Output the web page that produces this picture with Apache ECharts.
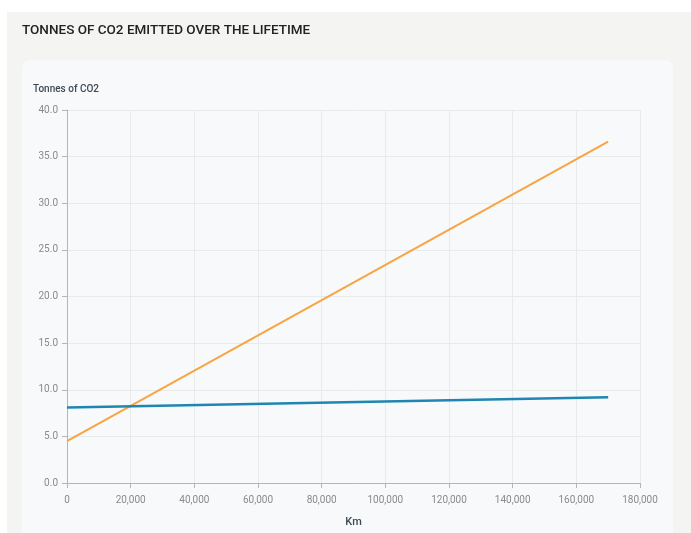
<!DOCTYPE html>
<html><head><meta charset="utf-8">
<script src="https://cdn.jsdelivr.net/npm/echarts@6/dist/echarts.min.js"></script>
<style>html,body{margin:0;padding:0;background:#fff}#c{width:691px;height:533px}</style>
</head><body><div id="c"></div>
<script>
const kmPoints = [0, 170000];
const orangeSeries = [4.5, 36.6];
const blueSeries = [8.1, 9.2];
const yTicks = [0, 5, 10, 15, 20, 25, 30, 35, 40];
const xTicks = [0, 20000, 40000, 60000, 80000, 100000, 120000, 140000, 160000, 180000];

const chart = echarts.init(document.getElementById('c'));
const pair = (xs, ys) => xs.map((x, i) => [x, ys[i]]);
chart.setOption({
  backgroundColor: '#ffffff',
  animation: false,
  graphic: [
    {type: 'rect', shape: {x: 7, y: 12, width: 684, height: 521}, style: {fill: '#f4f4f2'}, z: -10, silent: true},
    {type: 'rect', shape: {x: 22, y: 60, width: 651, height: 480, r: 8}, style: {fill: '#f8f9fb'}, z: -9, silent: true}
  ],
  title: {
    text: 'TONNES OF CO2 EMITTED OVER THE LIFETIME',
    left: 17, top: 19,
    textStyle: {fontFamily: 'Roboto', fontSize: 13.5, fontWeight: 500, color: '#222'}
  },
  grid: {left: 67, right: 51, top: 110, bottom: 50},
  xAxis: {
    type: 'value', min: 0, max: 180000, interval: 20000,
    name: 'Km', nameLocation: 'middle', nameGap: 34,
    nameTextStyle: {fontFamily: 'Roboto', fontSize: 11, fontWeight: 500, color: '#3d4a55'},
    axisLine: {show: true, lineStyle: {color: '#b5b5b5'}},
    axisTick: {show: true, length: 5, lineStyle: {color: '#b5b5b5'}},
    axisLabel: {fontFamily: 'Roboto', fontSize: 10, color: '#8a8a8a', margin: 12,
      formatter: v => v.toLocaleString('en-US')},
    splitLine: {show: true, lineStyle: {color: '#e9eaec'}}
  },
  yAxis: {
    type: 'value', min: 0, max: 40, interval: 5,
    name: 'Tonnes of CO2', nameLocation: 'end', nameGap: 16,
    nameTextStyle: {fontFamily: 'Roboto', fontSize: 10, fontWeight: 500, color: '#3d4a55', align: 'left', padding: [0, 0, 0, -34]},
    axisLine: {show: true, lineStyle: {color: '#b5b5b5'}},
    axisTick: {show: true, length: 5, lineStyle: {color: '#b5b5b5'}},
    axisLabel: {fontFamily: 'Roboto', fontSize: 10, color: '#8a8a8a', margin: 9,
      formatter: v => v.toFixed(1)},
    splitLine: {show: true, lineStyle: {color: '#e9eaec'}}
  },
  series: [
    {type: 'line', data: pair(kmPoints, orangeSeries), showSymbol: false,
      lineStyle: {color: '#f8a541', width: 2}, itemStyle: {color: '#f8a541'}},
    {type: 'line', data: pair(kmPoints, blueSeries), showSymbol: false,
      lineStyle: {color: '#1e86b0', width: 2.5}, itemStyle: {color: '#1e86b0'}}
  ]
});
</script></body></html>
